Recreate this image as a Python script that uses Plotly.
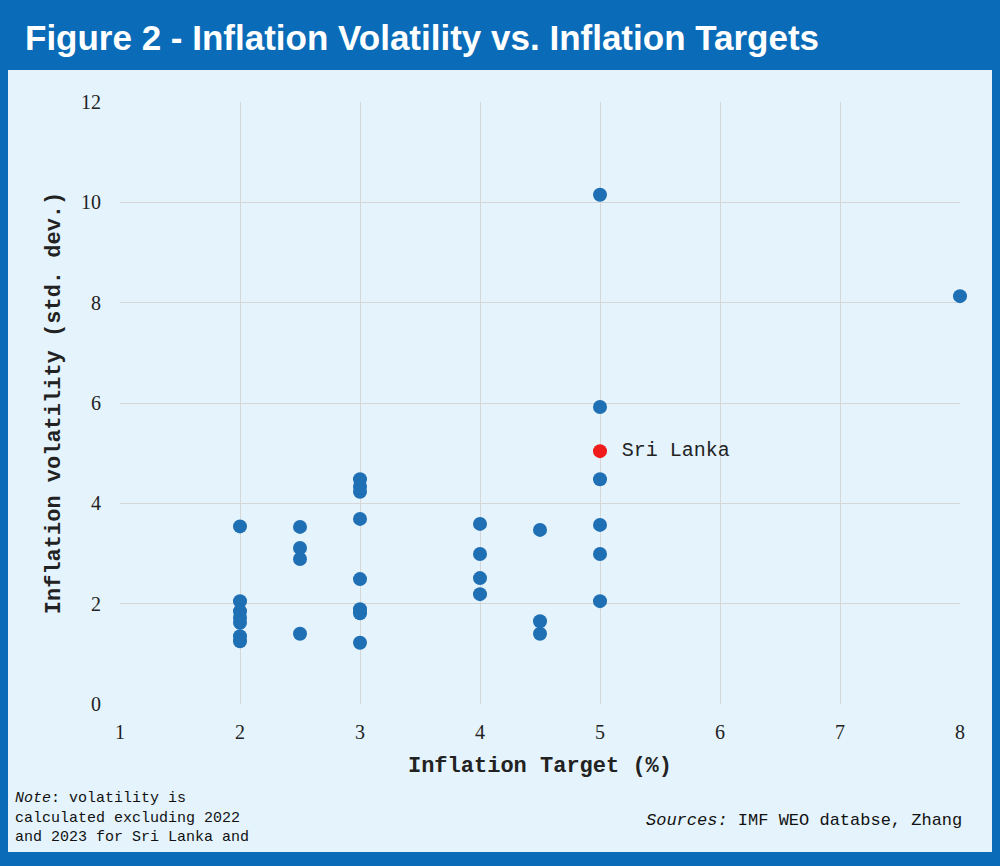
import plotly.graph_objects as go

BLUE = "#1f6fb4"
FRAME = "#0a6cb8"
PANEL = "#e4f3fc"

targets = [2, 2, 2, 2, 2, 2, 2,
           2.5, 2.5, 2.5, 2.5,
           3, 3, 3, 3, 3, 3, 3, 3,
           4, 4, 4, 4,
           4.5, 4.5, 4.5,
           5, 5, 5, 5, 5, 5,
           8]
volatility = [3.54, 2.05, 1.85, 1.72, 1.62, 1.35, 1.25,
              3.53, 3.11, 2.89, 1.40,
              4.48, 4.33, 4.23, 3.69, 2.49, 1.89, 1.81, 1.22,
              3.59, 2.99, 2.51, 2.19,
              3.47, 1.65, 1.40,
              10.15, 5.92, 4.48, 3.57, 2.99, 2.05,
              8.13]
sl_target = [5]
sl_volatility = [5.04]

mono = "Liberation Mono, Courier New, monospace"
serif = "Liberation Serif, Times New Roman, serif"

fig = go.Figure()
fig.add_trace(go.Scatter(x=targets, y=volatility, mode="markers",
                         marker=dict(color=BLUE, size=14), showlegend=False,
                         cliponaxis=False))
fig.add_trace(go.Scatter(x=sl_target, y=sl_volatility, mode="markers+text",
                         marker=dict(color="#f01c1c", size=14),
                         text=[" Sri Lanka"], textposition="middle right",
                         textfont=dict(family=mono, size=20, color="#222"),
                         showlegend=False))

fig.update_layout(
    width=1000, height=866,
    paper_bgcolor=FRAME, plot_bgcolor=PANEL,
    margin=dict(l=120, r=40, t=102, b=162),
    shapes=[dict(type="rect", xref="paper", yref="paper",
                 x0=-112/840, x1=1 + 32/840, y0=-148/602, y1=1 + 32/602,
                 fillcolor=PANEL, line=dict(width=0), layer="below")],
    annotations=[
        dict(text="<b>Figure 2 - Inflation Volatility vs. Inflation Targets</b>",
             xref="paper", yref="paper", x=-97/840, y=1 + 64/602,
             xanchor="left", yanchor="middle", showarrow=False,
             font=dict(family="Liberation Sans", size=35, color="white")),
        dict(text="<i>Note</i>: volatility is<br>calculated excluding 2022<br>and 2023 for Sri Lanka and",
             xref="paper", yref="paper", x=-107/840, y=-84/602,
             xanchor="left", yanchor="top", showarrow=False, align="left",
             font=dict(family=mono, size=15, color="#111")),
        dict(text="<i>Sources:</i> IMF WEO databse, Zhang",
             xref="paper", yref="paper", x=1 + 4/840, y=-116/602,
             xanchor="right", yanchor="middle", showarrow=False,
             font=dict(family=mono, size=17, color="#111")),
    ],
)
fig.update_xaxes(range=[1, 8], dtick=1, showgrid=True, gridcolor="#d6d6d6",
                 zeroline=False, showline=False, ticks="outside", ticklen=10,
                 tickcolor=PANEL,
                 tickfont=dict(family=serif, size=20, color="#222"),
                 title=dict(text="<b>Inflation Target (%)</b>", standoff=14,
                            font=dict(family=mono, size=22, color="#222")))
fig.update_yaxes(range=[0, 12], dtick=2, showgrid=True, gridcolor="#d6d6d6",
                 zeroline=False, showline=False, ticks="outside", ticklen=14,
                 tickcolor=PANEL,
                 tickfont=dict(family=serif, size=20, color="#222"),
                 title=dict(text="<b>Inflation volatility (std. dev.)</b>", standoff=14,
                            font=dict(family=mono, size=22, color="#222")))

fig.write_html("out.html", config={"displayModeBar": False},
               post_script="document.body.style.margin='0';")
